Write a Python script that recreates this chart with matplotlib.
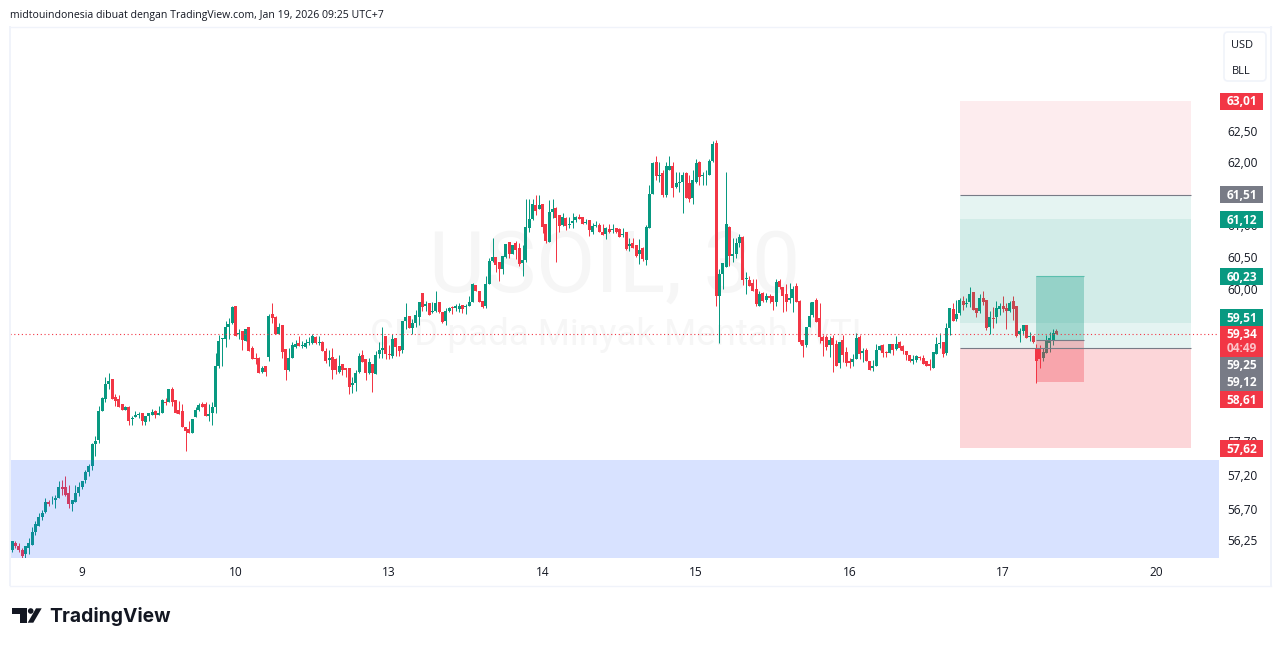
#!/usr/bin/env python

import matplotlib
matplotlib.use('Agg')
import matplotlib.pyplot as plt
from matplotlib.patches import Circle, FancyBboxPatch, Polygon, Rectangle
from matplotlib.ticker import FixedFormatter, FixedLocator, NullFormatter, NullLocator
from matplotlib.transforms import ScaledTranslation

# USOIL 30 min candles
opens = [
    56.12,56.23,56.19,56.13,56.07,56.15,56.20,56.39,56.48,56.61,
    56.68,56.83,56.85,56.86,56.88,57.05,57.05,56.95,56.80,56.83,
    56.95,57.04,57.15,57.26,57.35,57.68,57.74,58.17,58.36,58.58,
    58.65,58.39,58.36,58.28,58.19,58.23,58.05,58.08,58.11,58.14,
    58.01,58.10,58.11,58.17,58.11,58.14,58.31,58.31,58.51,58.34,
    58.19,58.17,57.93,57.91,57.85,58.08,58.19,58.28,58.28,58.10,
    58.14,58.23,58.85,59.26,59.26,59.45,59.51,59.77,59.34,59.39,
    59.23,59.45,59.13,58.97,58.97,58.76,58.85,58.99,59.65,59.60,
    59.34,59.48,59.11,58.79,58.97,59.14,59.20,59.16,59.14,59.20,
    59.20,59.29,59.20,59.22,59.08,58.94,58.99,58.96,58.76,58.89,
    58.83,58.82,58.57,58.60,58.76,59.02,58.96,58.74,58.89,58.73,
    59.04,59.10,59.31,59.04,59.00,59.28,59.16,59.10,59.54,59.62,
    59.43,59.51,59.60,59.97,59.77,59.82,59.68,59.69,59.84,59.68,
    59.54,59.69,59.76,59.74,59.73,59.79,59.76,59.77,59.84,60.09,
    60.00,59.85,59.77,60.11,60.47,60.53,60.46,60.35,60.53,60.77,
    60.58,60.75,60.67,60.43,60.48,60.98,61.13,61.35,61.29,61.37,
    61.05,60.77,61.24,61.30,61.19,61.03,61.14,61.03,61.06,61.11,
    61.16,61.16,61.06,61.11,60.93,61.01,61.03,60.92,60.89,60.97,
    60.95,60.98,60.97,60.87,60.92,60.70,60.75,60.72,60.58,60.67,
    60.48,60.98,61.53,62.03,61.81,61.85,61.51,61.90,61.97,61.64,
    61.70,61.72,61.85,61.70,61.46,61.72,62.03,61.81,61.82,61.83,
    62.05,62.33,59.93,60.26,60.38,61.00,60.54,60.58,60.75,60.85,
    60.19,60.17,60.13,60.03,59.77,59.97,59.87,59.92,59.93,59.84,
    60.16,60.06,59.95,59.87,59.90,60.08,59.85,59.25,59.17,59.45,
    59.63,59.87,59.59,59.29,59.29,59.17,59.28,59.19,58.90,59.25,
    59.07,58.93,58.91,58.96,59.29,59.05,59.10,58.93,58.82,58.86,
    59.10,59.17,59.07,59.05,59.19,59.11,59.22,59.16,59.08,59.02,
    58.93,58.94,58.99,58.97,58.93,58.89,58.83,59.04,59.19,59.22,
    59.05,59.43,59.73,59.57,59.66,59.85,59.80,59.84,59.98,59.74,
    59.69,59.90,59.87,59.45,59.59,59.60,59.73,59.77,59.74,59.69,
    59.85,59.77,59.34,59.39,59.48,59.29,59.31,59.13,59.13,58.97,
    59.05,59.20,59.25,59.39,
]
highs = [
    56.26,56.25,56.22,56.16,56.19,56.30,56.46,56.55,56.67,56.71,
    56.89,56.86,56.92,56.93,57.14,57.15,57.21,57.07,56.86,57.07,
    57.12,57.14,57.29,57.39,57.69,57.80,58.25,58.39,58.68,58.74,
    58.65,58.43,58.41,58.28,58.25,58.25,58.10,58.17,58.16,58.14,
    58.10,58.14,58.20,58.19,58.25,58.36,58.37,58.51,58.53,58.34,
    58.33,58.28,57.93,58.03,58.05,58.23,58.30,58.31,58.31,58.28,
    58.31,59.05,59.33,59.28,59.54,59.59,59.77,59.77,59.42,59.39,
    59.42,59.45,59.16,59.05,58.99,58.86,58.86,59.65,59.81,59.62,
    59.51,59.48,59.11,59.13,59.22,59.25,59.31,59.23,59.26,59.29,
    59.34,59.31,59.31,59.23,59.13,59.10,59.13,58.97,59.02,58.89,
    58.83,58.82,58.68,58.80,59.05,59.10,58.96,58.97,58.89,59.08,
    59.22,59.45,59.31,59.17,59.34,59.28,59.16,59.54,59.82,59.62,
    59.57,59.71,59.84,59.97,59.85,59.82,59.84,60.00,59.84,59.68,
    59.74,59.76,59.77,59.80,59.82,59.79,59.80,59.92,60.13,60.09,
    60.00,59.85,60.24,60.51,60.83,60.53,60.46,60.54,60.74,60.77,
    60.72,60.78,60.75,60.72,61.45,61.45,61.45,61.51,61.51,61.37,
    61.05,61.42,61.45,61.32,61.19,61.22,61.16,61.16,61.22,61.18,
    61.21,61.16,61.13,61.11,61.06,61.09,61.06,61.05,61.00,61.05,
    61.05,60.98,60.98,60.98,60.92,60.83,60.83,60.72,60.82,60.69,
    61.03,61.67,62.03,62.13,62.03,61.90,62.03,62.13,62.03,61.87,
    61.87,61.88,61.87,61.83,61.90,62.08,62.05,61.88,61.90,62.08,
    62.37,62.38,60.34,60.44,61.88,61.01,60.83,60.83,60.89,60.86,
    60.30,60.24,60.19,60.19,60.00,59.98,59.97,59.95,59.93,60.19,
    60.19,60.06,60.11,60.13,60.08,60.13,59.87,59.25,59.45,59.84,
    59.84,59.90,59.82,59.32,59.32,59.31,59.32,59.25,59.22,59.32,
    59.14,58.97,59.04,59.35,59.32,59.13,59.13,58.93,58.94,59.19,
    59.17,59.19,59.08,59.19,59.19,59.31,59.23,59.17,59.08,59.02,
    59.02,59.02,59.00,59.02,58.93,58.96,59.07,59.29,59.35,59.22,
    59.51,59.74,59.82,59.87,59.90,59.92,59.90,60.06,59.98,59.74,
    59.95,60.00,59.87,59.69,59.76,59.85,59.82,59.92,59.82,59.85,
    59.92,59.77,59.43,59.48,59.48,59.37,59.32,59.19,59.17,59.13,
    59.32,59.37,59.42,59.42,
]
lows = [
    56.10,56.15,56.10,56.01,55.98,56.07,56.20,56.35,56.48,56.56,
    56.67,56.77,56.79,56.74,56.88,56.93,56.92,56.74,56.70,56.82,
    56.92,57.01,57.11,57.21,57.29,57.51,57.69,58.17,58.31,58.50,
    58.36,58.25,58.23,58.19,58.19,57.96,57.97,58.08,58.07,57.97,
    57.97,58.02,58.11,58.07,58.11,58.14,58.27,58.31,58.25,58.14,
    58.13,57.93,57.58,57.84,57.85,58.08,58.17,58.23,58.10,58.03,
    57.97,58.14,58.82,58.86,59.14,59.26,59.49,59.31,59.26,59.10,
    59.23,59.08,58.96,58.89,58.74,58.74,58.70,58.93,59.51,59.34,
    59.34,58.97,58.64,58.77,58.97,59.13,59.16,59.13,59.13,59.17,
    59.19,59.19,59.17,59.08,58.90,58.86,58.65,58.73,58.74,58.71,
    58.68,58.43,58.45,58.48,58.74,58.91,58.64,58.73,58.46,58.73,
    58.97,58.97,58.96,58.96,58.97,59.00,59.00,59.05,59.42,59.43,
    59.34,59.45,59.48,59.69,59.69,59.63,59.66,59.68,59.66,59.51,
    59.48,59.68,59.65,59.69,59.68,59.66,59.65,59.77,59.84,60.00,
    59.84,59.74,59.74,60.11,60.46,60.30,60.16,60.27,60.51,60.51,
    60.58,60.50,60.39,60.24,60.46,60.93,61.11,61.19,61.29,60.90,
    60.75,60.77,61.14,60.45,60.92,61.01,60.95,60.98,60.98,61.08,
    61.13,61.05,61.05,60.86,60.89,61.00,60.92,60.87,60.82,60.90,
    60.90,60.90,60.85,60.85,60.64,60.62,60.67,60.53,60.42,60.47,
    60.40,60.98,61.53,61.75,61.72,61.48,61.48,61.90,61.48,61.61,
    61.56,61.22,61.46,61.40,61.37,61.70,61.67,61.67,61.66,61.82,
    62.03,59.77,59.20,60.04,60.38,60.39,60.46,60.51,60.69,60.09,
    59.95,60.08,60.00,59.77,59.77,59.84,59.84,59.82,59.71,59.77,
    60.04,59.68,59.69,59.82,59.68,59.84,59.19,58.99,59.14,59.45,
    59.60,59.53,59.20,59.00,59.10,58.99,58.76,58.85,58.83,58.91,
    58.85,58.82,58.86,58.96,58.96,58.91,58.93,58.80,58.77,58.85,
    59.10,58.99,58.99,59.05,59.02,59.10,59.10,59.04,58.94,58.91,
    58.89,58.91,58.94,58.89,58.86,58.80,58.83,59.04,59.13,58.99,
    59.02,59.32,59.54,59.54,59.63,59.71,59.76,59.76,59.71,59.60,
    59.66,59.79,59.40,59.34,59.43,59.51,59.63,59.68,59.42,59.68,
    59.56,59.29,59.22,59.32,59.28,59.23,59.20,58.60,58.83,58.93,
    59.05,59.07,59.17,59.34,
]
closes = [
    56.25,56.19,56.12,56.04,56.18,56.23,56.39,56.51,56.61,56.67,
    56.83,56.80,56.86,56.88,57.04,57.01,56.93,56.79,56.85,56.95,
    57.05,57.14,57.27,57.35,57.68,57.72,58.17,58.37,58.58,58.62,
    58.36,58.33,58.23,58.19,58.23,58.03,58.07,58.11,58.13,58.02,
    58.10,58.14,58.16,58.11,58.14,58.34,58.30,58.50,58.31,58.14,
    58.13,57.93,57.87,57.84,58.05,58.19,58.27,58.23,58.10,58.13,
    58.23,58.85,59.23,59.28,59.45,59.49,59.76,59.31,59.35,59.25,
    59.42,59.08,58.96,58.96,58.74,58.83,58.76,59.62,59.59,59.34,
    59.45,59.07,58.79,58.97,59.17,59.19,59.16,59.17,59.20,59.22,
    59.31,59.20,59.22,59.08,58.93,58.97,58.80,58.79,58.86,58.80,
    58.80,58.54,58.59,58.74,59.00,58.91,58.74,58.91,58.74,59.02,
    59.10,59.13,59.04,59.02,59.26,59.14,59.08,59.54,59.60,59.43,
    59.51,59.63,59.84,59.76,59.80,59.63,59.69,59.82,59.68,59.53,
    59.69,59.74,59.74,59.77,59.77,59.73,59.77,59.84,60.11,60.00,
    59.84,59.76,60.11,60.47,60.53,60.40,60.35,60.54,60.74,60.58,
    60.72,60.64,60.42,60.48,61.00,61.13,61.37,61.25,61.35,61.00,
    60.78,61.24,61.29,61.14,61.01,61.16,61.01,61.05,61.09,61.16,
    61.13,61.05,61.08,60.95,61.01,61.03,60.92,60.87,60.98,60.93,
    60.97,60.92,60.85,60.89,60.66,60.74,60.67,60.54,60.64,60.50,
    61.00,61.53,62.02,61.81,61.83,61.51,61.97,61.97,61.61,61.70,
    61.72,61.82,61.46,61.45,61.75,62.02,61.79,61.83,61.83,62.05,
    62.32,59.92,60.26,60.44,61.05,60.54,60.58,60.75,60.85,60.17,
    60.21,60.08,60.00,59.80,59.95,59.85,59.92,59.89,59.84,60.14,
    60.06,59.92,59.84,59.89,60.04,59.84,59.22,59.16,59.45,59.62,
    59.84,59.53,59.29,59.23,59.14,59.25,59.17,58.85,59.22,59.02,
    58.90,58.90,58.96,59.28,59.04,59.08,58.93,58.80,58.86,59.10,
    59.16,59.05,59.05,59.19,59.10,59.19,59.13,59.08,59.02,58.93,
    58.96,59.00,58.97,58.89,58.86,58.85,59.07,59.19,59.20,59.04,
    59.43,59.74,59.54,59.65,59.87,59.79,59.82,59.95,59.71,59.66,
    59.89,59.84,59.43,59.60,59.57,59.74,59.77,59.73,59.69,59.82,
    59.73,59.31,59.39,59.48,59.28,59.31,59.22,58.93,58.96,59.07,
    59.25,59.28,59.35,59.34,
]

# Axis labels
day_bars = [21, 67, 113, 159, 205, 251, 297, 343]
day_labels = ['9', '10', '13', '14', '15', '16', '17', '20']
price_ticks = [62.5, 62.0, 61.0, 60.5, 60.0, 57.7, 57.2, 56.7, 56.25]
price_labels = ['62,50', '62,00', '61,00', '60,50', '60,00', '57,70', '57,20', '56,70', '56,25']

# Levels of the drawings
last_price = 59.34
zone_top = 57.45
outer_levels = [63.01, 61.51, 61.12, 59.51, 59.12, 57.62]
inner_levels = [60.23, 59.25, 58.61]

# Price labels: text, colour, centre row in pixels of the picture
tag_texts = ['63,01', '61,51', '61,12', '60,23', '59,51', '58,61', '57,62']
tag_colors = ['#f23645', '#787b86', '#089981', '#089981', '#089981', '#f23645', '#f23645']
tag_rows = [101, 194.5, 219.5, 276.5, 317.5, 399.5, 448.5]

W, H = 1281, 646
UP, DOWN, GREY = '#089981', '#f23645', '#787b86'
FONT = ['Open Sans', 'DejaVu Sans']

plt.rcParams['font.family'] = FONT

fig = plt.figure(figsize=(W / 100, H / 100), dpi=100, facecolor='white')

###############################################################################
# Price pane
###############################################################################

ax = fig.add_axes([10 / W, 1 - 558 / H, 1209 / W, 531 / H])
ax.set_yscale('log')
ax.set_xlim(-0.6, 361.7)
ax.set_ylim(56.01, 64.23)
for spine in ax.spines.values():
    spine.set_visible(False)
ax.patch.set_alpha(0)

# watermark
wm = fig.add_axes([0, 0, 1, 1], zorder=-1)
wm.set_xlim(0, W)
wm.set_ylim(H, 0)
wm.axis('off')
wm.text(615, 268, 'USOIL, 30', fontsize=62, color='#f6f6f6', ha='center', va='center',
        family=['Roboto', 'DejaVu Sans'])
wm.text(616, 335, 'CFD pada Minyak Mentah WTI', fontsize=26.5, color='#f6f6f6', ha='center', va='center',
        family=['Roboto', 'DejaVu Sans'])

for i in range(len(closes)):
    color = UP if closes[i] >= opens[i] else DOWN
    ax.vlines(i, lows[i], highs[i], color=color, linewidth=0.72, zorder=2)
    ax.bar(i, abs(closes[i] - opens[i]), bottom=min(opens[i], closes[i]), width=0.9,
           color=color, linewidth=0, zorder=3)

# blue zone down to the pane bottom
ax.axhspan(56.01, zone_top, color='#2962ff', alpha=0.18, linewidth=0, zorder=4)

# long position tool
x0, x1 = 284.1, 353.3
fills = [(DOWN, 0.09), (UP, 0.10), (UP, 0.18), (UP, 0.10), (DOWN, 0.20)]
for k in range(5):
    ax.fill_between([x0, x1], outer_levels[k + 1], outer_levels[k], color=fills[k][0],
                    alpha=fills[k][1], linewidth=0, zorder=5)
ax.hlines([outer_levels[1], outer_levels[4]], x0, x1, color=GREY, linewidth=0.8, zorder=6)

ix0, ix1 = 306.9, 321.3
ax.fill_between([ix0, ix1], inner_levels[1], inner_levels[0], color=UP, alpha=0.3, linewidth=0, zorder=5)
ax.fill_between([ix0, ix1], inner_levels[2], inner_levels[1], color=DOWN, alpha=0.3, linewidth=0, zorder=5)
ax.hlines(inner_levels[0], ix0, ix1, color='#5bbfae', linewidth=0.8, zorder=6)
ax.hlines(inner_levels[1], ix0, ix1, color=GREY, linewidth=0.8, zorder=6)

ax.axhline(last_price, color=DOWN, linewidth=0.8, linestyle=(0, (1, 2.4)), zorder=7)

ax.xaxis.set_major_locator(FixedLocator(day_bars))
ax.xaxis.set_major_formatter(FixedFormatter(day_labels))
ax.yaxis.tick_right()
ax.yaxis.set_major_locator(FixedLocator(price_ticks))
ax.yaxis.set_major_formatter(FixedFormatter(price_labels))
ax.yaxis.set_minor_locator(NullLocator())
ax.yaxis.set_minor_formatter(NullFormatter())
ax.tick_params(axis='x', length=0, pad=6, labelsize=8.6, labelcolor='#131722')
ax.tick_params(axis='y', length=0, pad=6, labelsize=8.6, labelcolor='#131722')

# price labels sit a little above their level
for label in ax.get_yticklabels():
    label.set_transform(label.get_transform() + ScaledTranslation(0, 1.2 / 72, fig.dpi_scale_trans))

###############################################################################
# Frame, price labels, header and logo in picture pixels
###############################################################################

top = fig.add_axes([0, 0, 1, 1], zorder=10)
top.set_xlim(0, W)
top.set_ylim(H, 0)
top.axis('off')

top.plot([9.5, 9.5], [27, 585], color='#f0f3fa', linewidth=1.4)
top.plot([1271, 1271], [27, 585], color='#f0f3fa', linewidth=1.4)
top.plot([9.5, 1271], [27, 27], color='#f0f3fa', linewidth=1.0)
top.plot([9.5, 1271], [585.5, 585.5], color='#f0f3fa', linewidth=1.0)

def tag(text, color, row, text_color='white'):
    top.add_patch(Rectangle((1220, row - 8.5), 43, 17, facecolor=color, linewidth=0))
    top.text(1241.5, row + 0.8, text, color=text_color, fontsize=8.6, fontweight='bold', ha='center', va='center')

for t, c, r in zip(tag_texts, tag_colors, tag_rows):
    tag(t, c, r)

# stacked labels of the current price and the two levels under it
top.add_patch(Rectangle((1220, 326), 43, 31, facecolor=DOWN, linewidth=0))
top.text(1241.5, 334.5, '59,34', color='white', fontsize=8.6, fontweight='bold', ha='center', va='center')
top.text(1241.5, 348, '04:49', color='#fbc4c9', fontsize=8.6, fontweight='bold', ha='center', va='center')
top.add_patch(Rectangle((1220, 357), 43, 34, facecolor=GREY, linewidth=0))
top.text(1241.5, 365.5, '59,25', color='white', fontsize=8.6, fontweight='bold', ha='center', va='center')
top.text(1241.5, 382.5, '59,12', color='white', fontsize=8.6, fontweight='bold', ha='center', va='center')

# currency and unit box
top.add_patch(FancyBboxPatch((1224, 32), 42, 49, boxstyle='round,pad=0,rounding_size=4',
                             facecolor='white', edgecolor='#f0f3fa', linewidth=1.2))
top.text(1242, 45, 'USD', color='#131722', fontsize=7.9, ha='center', va='center')
top.text(1241, 71, 'BLL', color='#131722', fontsize=7.9, ha='center', va='center')

top.text(10, 15.5, 'midtouindonesia dibuat dengan TradingView.com, Jan 19, 2026 09:25 UTC+7',
         color='#131722', fontsize=7.6, ha='left', va='center')

# logo
logo = '#131722'
top.add_patch(Polygon([(12.3, 608.3), (27.3, 608.3), (27.3, 622.7), (20, 622.7), (20, 614), (12.3, 614)],
                      facecolor=logo, linewidth=0))
top.add_patch(Circle((30.7, 611), 2.8, facecolor=logo, linewidth=0))
top.add_patch(Polygon([(36, 608.3), (41.7, 608.3), (33.3, 622.7), (27.7, 622.7)], facecolor=logo, linewidth=0))
top.text(49, 616, 'TradingView', color=logo, fontsize=13.9, fontweight='bold', ha='left', va='center',
         family=['Inter', 'DejaVu Sans'])

fig.savefig('out.png', dpi=100, facecolor='white')
